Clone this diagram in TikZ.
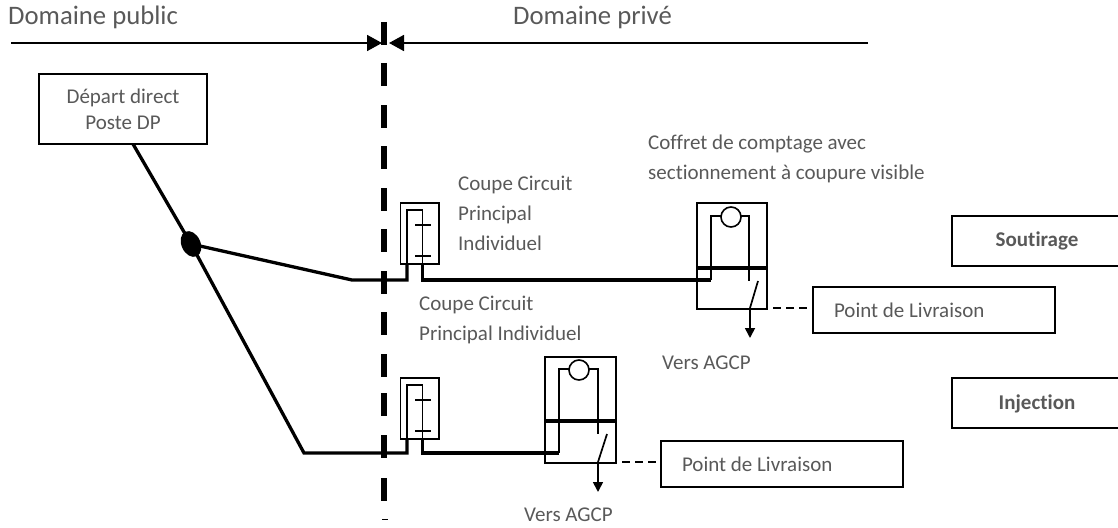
\documentclass[tikz,border=0pt]{standalone}
\usepackage{fontspec}
\setmainfont[Ligatures=CommonOff]{Carlito}
\usetikzlibrary{arrows.meta}
\definecolor{txt}{HTML}{595959}
\tikzset{
  x=1pt,y=-1pt,
  wire/.style={draw=black,line width=1.7pt},
  heavy/.style={draw=black,line width=3.3pt,line join=miter},
  frame/.style={draw=black,line width=1.6pt,inner sep=0pt,anchor=north west},
  label text/.style={text=txt,font=\fontsize{21pt}{30pt}\selectfont,inner sep=0pt,align=left,anchor=west},
  title text/.style={text=txt,font=\fontsize{26.7pt}{30pt}\selectfont,inner sep=0pt,anchor=west},
  box/.style={draw=black,line width=1.7pt,fill=white,inner sep=0pt,text=txt,align=center,font=\fontsize{21pt}{26pt}\selectfont},
  pdl/.style={draw=black,line width=1.7pt,fill=white,inner ysep=0pt,inner xsep=21pt,text width=200pt,align=flush left,text=txt,minimum height=46pt,font=\fontsize{21pt}{26pt}\selectfont},
  side text/.style={text=txt,inner sep=0pt,font=\fontsize{21pt}{26pt}\selectfont\bfseries},
  boundary/.style={draw=black,line width=5.5pt},
  head/.style={-{Triangle[length=15pt,width=16pt]},line width=1.7pt},
  small head/.style={-{Triangle[length=10pt,width=10pt]},line width=1.7pt},
  dashline/.style={line width=1.7pt,dash pattern=on 8pt off 5pt},
}
\newcommand{\ccpi}[3]{%
  \node[frame,minimum width=38.5pt,minimum height=61pt] (#1) at (399.5,#2) {};
  \coordinate (#1L) at (407,#3);
  \coordinate (#1R) at (422.5,#3);
  \draw[wire] (407,#2+61) |- (422.5,#2+8) -- (422.5,#2+61);
  \draw[wire] (415,#2+23) -- (431,#2+23);
  \draw[wire] (415,#2+54) -- (431,#2+54);
}
\begin{document}
\begin{tikzpicture}
\useasboundingbox (0,0) rectangle (1118,527);
% boundary
\foreach \y in {22,63,105,146,188,229,271,312,354,393,435,478}
  \draw[boundary] (384,\y) -- (384,\y+23);
\draw[draw=black,line width=1.4pt] (382,519.5) -- (388,519.5);
% top arrows
\coordinate (lstart) at (11,43); \coordinate (ltip) at (382,43);
\coordinate (rstart) at (868,43); \coordinate (rtip) at (389,43);
\draw[head] (lstart) -- (ltip);
\draw[head] (rstart) -- (rtip);
\node[title text] (dpub) at (8,17.5) {Domaine public};
\node[title text] (dpri) at (513,17.5) {Domaine privé};
% source
\node[box,minimum width=168pt,minimum height=70pt] (src) at (123,109) {\raisebox{-1pt}{Départ direct}\\\raisebox{-1pt}{Poste DP}};
\coordinate (srcout) at (133,144);
\coordinate (j) at (191,244);
\coordinate (a1) at (352,280);
\coordinate (a2) at (304,453);
% CCPI
\ccpi{c1}{202}{280}
\ccpi{c2}{377}{453}
% heavy wires
\draw[heavy] (srcout) -- (j) -- (a2) -- (c2L) -- (407,438);
\draw[heavy] (j) -- (a1) -- (c1L) -- (407,263);
\draw[heavy] (422.5,263) -- (c1R) -- (711,280);
\draw[heavy] (422.5,438) -- (c2R) -- (559,453);
\fill[black,rotate around={25:(191,244)}] (191,244) ellipse [x radius=9.5pt,y radius=13.5pt];
% meters
\node[frame,minimum width=70pt,minimum height=64pt] (m1) at (696,202) {};
\node[frame,minimum width=70pt,minimum height=40pt] (b1) at (696,268) {};
\draw[wire] (711,280) -- (711,216) -- (749,216) -- (749,281);
\node[circle,draw=black,line width=1.6pt,fill=white,minimum size=20pt,inner sep=0pt] (o1) at (731,217) {};
\draw[wire] (758,281) -- (750,308);
\node[frame,minimum width=71pt,minimum height=63pt] (m2) at (544,356) {};
\node[frame,minimum width=71pt,minimum height=41pt] (b2) at (544,421) {};
\draw[wire] (559,453) -- (559,369) -- (598,369) -- (598,434);
\node[circle,draw=black,line width=1.6pt,fill=white,minimum size=20pt,inner sep=0pt] (o2) at (579,370) {};
\draw[wire] (607,434) -- (598,462);
% outputs
\coordinate (o1s) at (750,309); \coordinate (o1e) at (750,338);
\coordinate (o2s) at (598,463); \coordinate (o2e) at (598,492);
\draw[small head] (o1s) -- (o1e);
\draw[small head] (o2s) -- (o2e);
% PDL boxes
\node[pdl] (p1) at (934,310) {\raisebox{-1.5pt}{Point de Livraison}};
\node[pdl] (p2) at (782,464) {Point de Livraison};
\coordinate (d1) at (773,308);
\coordinate (d2) at (622,462);
\draw[dashline] (d1) -- (p1.west |- d1);
\draw[dashline] (d2) -- (p2.west |- d2);
% side boxes (their right edge lies beyond the page)
\node[side text] (s) at (1037,241) {Soutirage};
\node[side text] (i) at (1037,404) {Injection};
\coordinate (s1) at (1118,216); \coordinate (s2) at (1118,266);
\coordinate (i1) at (1118,378); \coordinate (i2) at (1118,428);
\draw[draw=black,line width=1.7pt] (s1) -- (952,216) -- (952,266) -- (s2);
\draw[draw=black,line width=1.7pt] (i1) -- (952,378) -- (952,428) -- (i2);
% labels
\node[label text] (t1) at (458,213) {Coupe Circuit\\Principal\\Individuel};
\node[label text] (t2) at (419,320) {Coupe Circuit\\Principal Individuel};
\node[label text] (t3) at (648,159) {Coffret de comptage avec\\sectionnement à coupure visible};
\node[label text] (v1) at (662,363) {Vers AGCP};
\node[label text] (v2) at (524,515) {Vers AGCP};
\end{tikzpicture}
\end{document}
